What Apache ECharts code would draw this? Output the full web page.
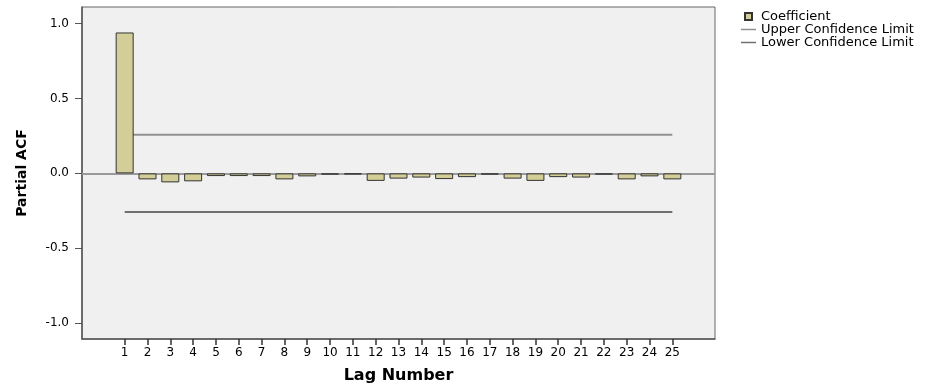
<!DOCTYPE html>
<html>
<head>
<meta charset="utf-8">
<script src="https://cdn.jsdelivr.net/npm/echarts@6/dist/echarts.min.js"></script>
<style>
html,body{margin:0;padding:0;background:#fff;}
#chart{width:941px;height:392px;}
</style>
</head>
<body>
<div id="chart"></div>
<script>
var lags = [1,2,3,4,5,6,7,8,9,10,11,12,13,14,15,16,17,18,19,20,21,22,23,24,25];
var coefficient = [0.94,-0.04,-0.06,-0.053,-0.018,-0.018,-0.018,-0.04,-0.02,-0.008,-0.005,-0.05,-0.035,-0.028,-0.038,-0.025,-0.008,-0.035,-0.05,-0.025,-0.028,-0.008,-0.04,-0.02,-0.04];
var upperLimit = [0.257,0.257,0.257,0.257,0.257,0.257,0.257,0.257,0.257,0.257,0.257,0.257,0.257,0.257,0.257,0.257,0.257,0.257,0.257,0.257,0.257,0.257,0.257,0.257,0.257];
var lowerLimit = [-0.257,-0.257,-0.257,-0.257,-0.257,-0.257,-0.257,-0.257,-0.257,-0.257,-0.257,-0.257,-0.257,-0.257,-0.257,-0.257,-0.257,-0.257,-0.257,-0.257,-0.257,-0.257,-0.257,-0.257,-0.257];
var yTicks = [-1.0,-0.5,0.0,0.5,1.0];

var font = 'DejaVu Sans';
var chart = echarts.init(document.getElementById('chart'));
function pairs(v){ return lags.map(function(l,i){ return [l, v[i]]; }); }
var lineIcon = 'path://M0,0 L40,0 L40,4 L0,4 Z';

chart.setOption({
  backgroundColor: '#ffffff',
  animation: false,
  textStyle: { fontFamily: font },
  legend: {
    orient: 'vertical',
    left: 736, top: 5,
    itemWidth: 15, itemHeight: 7, itemGap: 0,
    textStyle: { fontFamily: font, fontSize: 13, color: '#000', lineHeight: 12.5 },
    data: [
      { name: 'Coefficient', icon: 'path://M0,0 L10,0 L10,10 L0,10 Z' },
      { name: 'Upper Confidence Limit', icon: lineIcon },
      { name: 'Lower Confidence Limit', icon: lineIcon }
    ]
  },
  grid: {
    left: 82, top: 7, right: 226, bottom: 53,
    show: true, backgroundColor: '#f0f0f0', borderColor: '#666', borderWidth: 1
  },
  xAxis: {
    type: 'value', min: -0.87, max: 26.87,
    name: 'Lag Number', nameLocation: 'middle', nameGap: 29,
    nameTextStyle: { fontFamily: font, fontSize: 16, fontWeight: 'bold', color: '#000' },
    axisLine: { show: true, onZero: false, lineStyle: { color: '#555', width: 1.5 } },
    axisTick: { show: true, length: 6, customValues: lags, lineStyle: { color: '#333', width: 1.5 } },
    axisLabel: { customValues: lags, margin: 8, fontSize: 12, color: '#000', fontFamily: font },
    splitLine: { show: false }
  },
  yAxis: {
    type: 'value', min: -1.105, max: 1.11,
    name: 'Partial ACF', nameLocation: 'middle', nameGap: 53, nameRotate: 90,
    nameTextStyle: { fontFamily: font, fontSize: 14, fontWeight: 'bold', color: '#000' },
    axisLine: { show: true, onZero: false, lineStyle: { color: '#555', width: 1.5 } },
    axisTick: { show: true, length: 7, customValues: yTicks, lineStyle: { color: '#555', width: 1 } },
    axisLabel: { customValues: yTicks, margin: 13, fontSize: 12, color: '#000', fontFamily: font,
      formatter: function(v){ return v.toFixed(1); } },
    splitLine: { show: false }
  },
  series: [
    {
      name: 'Coefficient', type: 'bar', barWidth: 18, barMinHeight: 1,
      data: pairs(coefficient),
      itemStyle: { color: '#d3ce97', borderColor: '#333', borderWidth: 1 },
      z: 5
    },
    {
      name: 'Upper Confidence Limit', type: 'line', symbol: 'none', showSymbol: false,
      data: pairs(upperLimit),
      lineStyle: { color: '#909090', width: 2 }, itemStyle: { color: '#909090' },
      markLine: {
        silent: true, symbol: 'none', label: { show: false },
        lineStyle: { color: '#9a9a9a', width: 2, type: 'solid' },
        data: [{ yAxis: 0 }]
      },
      z: 2
    },
    {
      name: 'Lower Confidence Limit', type: 'line', symbol: 'none', showSymbol: false,
      data: pairs(lowerLimit),
      lineStyle: { color: '#707070', width: 2 }, itemStyle: { color: '#707070' },
      z: 2
    }
  ]
});
</script>
</body>
</html>
